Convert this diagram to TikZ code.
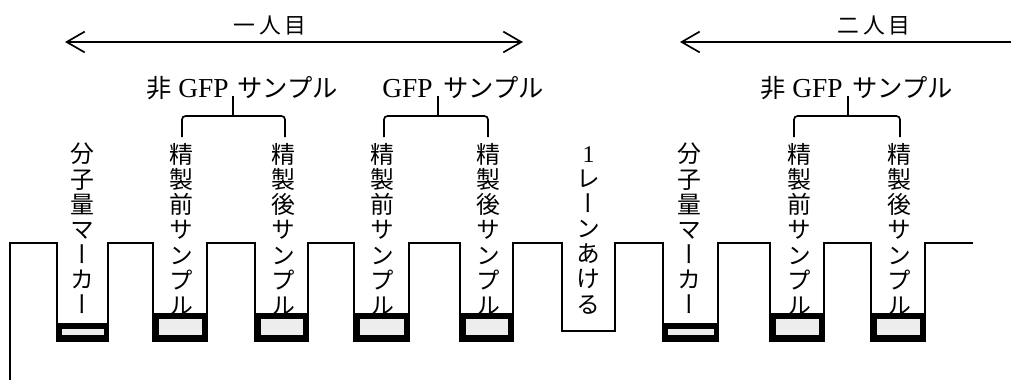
\documentclass[tikz,border=0pt]{standalone}
\usepackage{fontspec}
\setmainfont{Liberation Serif}
\newfontfamily\jp{Noto Sans CJK JP}
\newfontfamily\jpv[RawFeature=+vert]{Noto Sans CJK JP}
\usetikzlibrary{arrows.meta}
\tikzset{
  outline/.style={line width=1.3pt, line join=miter},
  bracestyle/.style={line width=1.2pt, rounded corners=2.5},
  dimarrow/.style={line width=1.2pt, arrows={Straight Barb[length=4.5mm,width=5.2mm,line width=1.2pt]-Straight Barb[length=4.5mm,width=5.2mm,line width=1.2pt]}},
  leftarrow/.style={line width=1.2pt, arrows={Straight Barb[length=4.5mm,width=5.2mm,line width=1.2pt]-}},
  vlabel/.style={anchor=north, inner sep=0pt, align=center, font=\jpv\fontsize{17}{17.9}\selectfont},
  toplabel/.style={anchor=base, inner sep=0pt, font=\fontsize{19.5}{22}\selectfont},
  headlabel/.style={inner sep=0pt, font=\jp\fontsize{15.5}{18}\selectfont},
  band/.style={fill=black},
  bandin/.style={fill=black!7}
}
\begin{document}
\begin{tikzpicture}[x=0.25mm,y=-0.25mm]
\useasboundingbox (0,0) rectangle (1011,380);
% gel outline
\draw[outline] (10,380)--(10,243)
  --(57,243)--(57,341)--(108,341)--(108,243)
  --(153,243)--(153,341)--(207,341)--(207,243)
  --(255,243)--(255,341)--(308,341)--(308,243)
  --(354,243)--(354,341)--(409,341)--(409,243)
  --(460,243)--(460,341)--(513,341)--(513,243)
  --(562,243)--(562,331)--(615,331)--(615,243)
  --(663,243)--(663,341)--(718,341)--(718,243)
  --(770,243)--(770,341)--(824,341)--(824,243)
  --(871,243)--(871,341)--(925,341)--(925,243)
  --(973,243);
% lane labels
\node[vlabel] (m1) at (82.5,143) {分\\子\\量\\マ\\ー\\カ\\ー};
\node[vlabel] (s1) at (181,143) {精\\製\\前\\サ\\ン\\プ\\ル};
\node[vlabel] (s2) at (283,143) {精\\製\\後\\サ\\ン\\プ\\ル};
\node[vlabel] (s3) at (382,143) {精\\製\\前\\サ\\ン\\プ\\ル};
\node[vlabel] (s4) at (488,143) {精\\製\\後\\サ\\ン\\プ\\ル};
\node[vlabel] (e1) at (588.5,146) {{\rmfamily\fontsize{17}{17.9}\selectfont 1}\\レ\\ー\\ン\\あ\\け\\る};
\node[vlabel] (m2) at (689,143) {分\\子\\量\\マ\\ー\\カ\\ー};
\node[vlabel] (s5) at (799,143) {精\\製\\前\\サ\\ン\\プ\\ル};
\node[vlabel] (s6) at (899,143) {精\\製\\後\\サ\\ン\\プ\\ル};
% marker bands
\foreach \l/\r in {57/108, 663/718}{
  \fill[band] (\l,323) rectangle (\r,341.5);
  \fill[bandin] (\l+4.5,329) rectangle (\r-4.5,335);
}
% sample bands
\foreach \l/\r in {153/207, 255/308, 354/409, 460/513, 770/824, 871/925}{
  \fill[band] (\l,313) rectangle (\r,341.5);
  \fill[bandin] (\l+5.5,318.5) rectangle (\r-5.5,335);
}
% braces
\coordinate (b1l) at (182,137); \coordinate (b1r) at (285,137); \coordinate (b1t) at (233,96);
\coordinate (b2l) at (384,137); \coordinate (b2r) at (488,137); \coordinate (b2t) at (438,96);
\coordinate (b3l) at (794,137); \coordinate (b3r) at (900,137); \coordinate (b3t) at (848,96);
\foreach \b in {b1,b2,b3}{
  \draw[bracestyle] (\b l) |- (\b t |- 0,116) -| (\b r);
  \draw[line width=1.2pt] (\b t |- 0,116) -- (\b t);
}
% group titles
\node[toplabel, anchor=base east] (g1a) at (229,97) {{\jp\fontsize{18}{22}\selectfont 非} GFP};
\node[toplabel, anchor=base west] (g1b) at (237,97) {\jp\fontsize{18}{22}\selectfont サンプル};
\node[toplabel, anchor=base east] (g2a) at (433,97) {GFP};
\node[toplabel, anchor=base west] (g2b) at (443,97) {\jp\fontsize{18}{22}\selectfont サンプル};
\node[toplabel, anchor=base east] (g3a) at (843,97) {{\jp\fontsize{18}{22}\selectfont 非} GFP};
\node[toplabel, anchor=base west] (g3b) at (852,97) {\jp\fontsize{18}{22}\selectfont サンプル};
% person arrows
\coordinate (a1l) at (65,42); \coordinate (a1r) at (523,42);
\draw[dimarrow] (a1l) -- (a1r);
\node[headlabel] (p1) at (270,25) {一\,人\,目};
\coordinate (a2l) at (680,42); \coordinate (a2r) at (1011,42);
\draw[leftarrow] (a2l) -- (a2r);
\node[headlabel] (p2) at (874,25) {二\,人\,目};
\end{tikzpicture}
\end{document}
